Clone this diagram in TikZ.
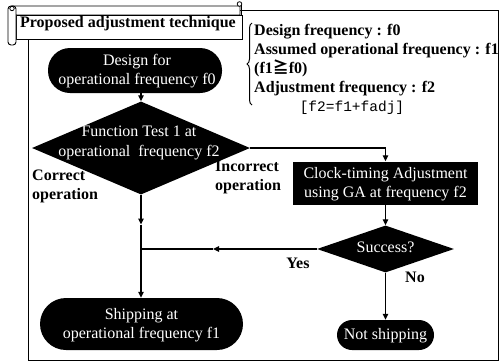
\documentclass[tikz,border=0pt]{standalone}
\usepackage{fontspec}
\setmainfont{Liberation Serif}
\newfontfamily\gothic{Liberation Mono}
\newfontfamily\cjk{Noto Sans CJK JP}
\usetikzlibrary{shapes.geometric,arrows.meta,decorations.pathreplacing,calc}

\begin{document}
\begin{tikzpicture}[x=1pt,y=-1pt,
  tip/.style={-{Triangle[length=6pt,width=5.5pt]}},
  link/.style={line width=1.3pt},
  pill/.style={rectangle, fill=black, inner sep=0pt},
  blackbox/.style={rectangle, fill=black, inner sep=0pt},
  decision/.style={diamond, fill=black, inner sep=0pt},
  wtext/.style={text=white, align=center, inner sep=0pt,
    font=\rmfamily\fontsize{16}{19.5}\selectfont},
  lbl/.style={align=left, inner sep=0pt, font=\bfseries\fontsize{16}{19}\selectfont},
  scrollline/.style={line width=0.9pt, fill=white}
]
\useasboundingbox (0,0) rectangle (501,362);

% outer frame
\draw[line width=1pt] (28,10) rectangle (498,360);

% title scroll: top band, body, left roll and curls
\draw[scrollline] (12,6) -- (240,6) -- (240,15) -- (16,15) -- cycle;
\draw[scrollline] (16,15) rectangle (242,39);
\draw[scrollline, rounded corners=3pt] (8,6) rectangle (16,45);
\draw[line width=0.8pt, fill=white] (12,8.5) circle (2.2);
\draw[line width=0.8pt, fill=white] (239.5,4) circle (2.3);
\draw[line width=0.9pt] (241.8,5) -- (241.8,15);
\node[font=\bfseries\fontsize{16}{19}\selectfont, inner sep=0pt] (title) at (128,24)
  {Proposed adjustment technique};

% definitions of the frequencies
\draw[line width=1pt, decorate, decoration={brace, amplitude=5pt}] (252,105) -- (252,23);
\node[lbl, anchor=west] (defs) at (254,60)
  {Design frequency : f0\\
   Assumed operational frequency : f1\\
   (f1{\cjk\bfseries ≧}f0)\\
   Adjustment frequency : f2};
\node[inner sep=0pt, font=\gothic\fontsize{14.5}{17}\selectfont] (fadj) at (352,108)
  {[f2=f1+fadj]};

% flowchart nodes
\node[pill, rounded corners=22pt, minimum width=174pt, minimum height=45pt] (design) at (135,70.5) {};
\node[wtext] (designt) at (137,71) {Design for\\operational frequency f0};

\node[decision, minimum width=218pt, minimum height=93pt] (test) at (141,148) {};
\node[wtext] (testt) at (139,143) {Function Test 1 at\\operational\ \ frequency f2};

\node[blackbox, minimum width=185pt, minimum height=43pt] (clock) at (385.5,183) {};
\node[wtext] (clockt) at (385.5,184) {Clock-timing Adjustment\\using GA at frequency f2};

\node[decision, minimum width=137pt, minimum height=47pt] (success) at (385.5,249) {};
\node[wtext] (successt) at (385.5,247) {Success?};

\node[pill, rounded corners=26pt, minimum width=203pt, minimum height=52pt] (ship) at (141.5,324) {};
\node[wtext] (shipt) at (141.5,325) {Shipping at\\operational frequency f1};

\node[pill, rounded corners=15pt, minimum width=97pt, minimum height=30pt] (noship) at (385.5,335) {};
\node[wtext] (noshipt) at (385.5,335.5) {Not shipping};

% branch labels
\node[lbl, anchor=west] (correct) at (32,186) {Correct\\operation};
\node[lbl, anchor=west] (incorrect) at (215,177) {Incorrect\\operation};
\node[lbl] (yes) at (298,263) {Yes};
\node[lbl] (no) at (415,277) {No};

% connectors
\coordinate (join) at (test.south |- success.west);
\coordinate (downmid) at ($(test.south)!0.55!(join)$);
\coordinate (yesmid) at ($(success.west)!0.59!(join)$);
\draw[link, tip] (design.south -| test.north) -- (test.north);
\draw[link, tip] (test.south) -- (downmid);
\draw[link] (downmid) -- (join);
\draw[link, tip] (join) -- (join |- ship.north);
\draw[link, tip] (test.east) -- (clock.north |- test.east) -- (clock.north);
\draw[link, tip] (clock.south) -- (success.north);
\draw[link, tip] (success.west) -- (yesmid);
\draw[link] (yesmid) -- (join);
\draw[link, tip] (success.south) -- (noship.north);
\end{tikzpicture}
\end{document}
